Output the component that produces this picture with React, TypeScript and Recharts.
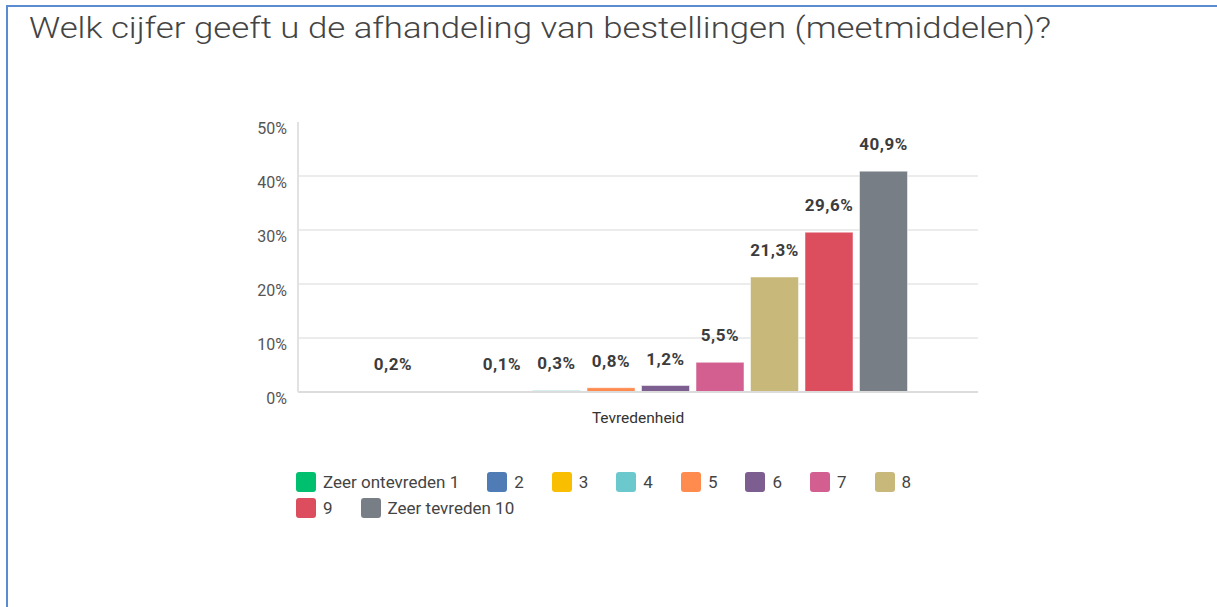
import React from 'react';
import { BarChart, Bar, XAxis, YAxis, CartesianGrid, LabelList } from 'recharts';

const title = 'Welk cijfer geeft u de afhandeling van bestellingen (meetmiddelen)?';
const category = 'Tevredenheid';
const seriesNames = ['Zeer ontevreden 1', '2', '3', '4', '5', '6', '7', '8', '9', 'Zeer tevreden 10'];
const seriesValues = [0.2, 0, 0.1, 0.3, 0.8, 1.2, 5.5, 21.3, 29.6, 40.9];
const seriesColors = ['#00bf6f', '#507cb6', '#f9be00', '#6bc8cd', '#ff8b4f', '#7d5e90', '#d25f90', '#c8b87a', '#dc4e5e', '#777e85'];
const yTicks = [0, 10, 20, 30, 40, 50];
const gridValues = [10, 20, 30, 40];

const FONT = 'Roboto, "Noto Sans", sans-serif';

// one row, one key per answer
const row: Record<string, string | number> = { cat: category };
seriesValues.forEach((v, i) => {
  row[`s${i}`] = v;
});
const data = [row];

const pct = (v: number) => (v === 0 ? '' : `${v.toFixed(1).replace('.', ',')}%`);

const YTick = (p: any) => (
  <text x={p.x} y={p.y + 12} textAnchor="end" fontSize={16} fill="#555" fontFamily={FONT}>
    {`${p.payload.value}%`}
  </text>
);

const XTick = (p: any) => (
  <text x={p.x} y={p.y + 31} textAnchor="middle" fontSize={15.5} fill="#333" fontFamily={FONT}>
    {p.payload.value}
  </text>
);

export default function App() {
  return (
    <div style={{ position: 'absolute', left: 0, top: 0, width: 1217, height: 607, background: '#fff', overflow: 'hidden', fontFamily: FONT }}>
      {/* frame edges */}
      <div style={{ position: 'absolute', left: 6, top: 5, width: 1211, height: 2, background: '#5b8bd0' }} />
      <div style={{ position: 'absolute', left: 6, top: 5, width: 2, height: 602, background: '#5b8bd0' }} />

      <svg width={1217} height={60} style={{ position: 'absolute', left: 0, top: 0 }}>
        <text x={29} y={38} fontSize={30} fill="#444" fontFamily={FONT} fontWeight={300} textLength={1022} lengthAdjust="spacingAndGlyphs">
          {title}
        </text>
      </svg>

      <div style={{ position: 'absolute', left: 0, top: 0 }}>
        <BarChart
          width={1217}
          height={440}
          data={data}
          margin={{ top: 122, right: 239, bottom: 8, left: 238 }}
          barSize={48}
          barGap={6.5}
        >
          <CartesianGrid vertical={false} horizontalValues={gridValues} stroke="#ececec" strokeWidth={2} />
          <XAxis
            dataKey="cat"
            height={40}
            tickSize={0}
            tickMargin={0}
            tick={XTick}
            axisLine={{ stroke: '#dcdcdc', strokeWidth: 2 }}
          />
          <YAxis
            width={60}
            domain={[0, 50]}
            ticks={yTicks}
            interval={0}
            tickSize={0}
            tickMargin={11}
            tick={YTick}
            axisLine={{ stroke: '#e2e2e2', strokeWidth: 2 }}
          />
          {seriesNames.map((name, i) => (
            <Bar
              key={name}
              dataKey={`s${i}`}
              name={name}
              fill={seriesColors[i]}
              stroke="#ffffff"
              strokeOpacity={0.5}
              strokeWidth={1}
              isAnimationActive={false}
            >
              <LabelList
                dataKey={`s${i}`}
                position="top"
                offset={21}
                formatter={(v: any) => pct(Number(v))}
                style={{ fontSize: 17, fontWeight: 700, fill: '#3c3c3c', fontFamily: FONT, letterSpacing: 0.5 }}
              />
            </Bar>
          ))}
        </BarChart>
      </div>

      {/* legend */}
      <div style={{ position: 'absolute', left: 296, top: 472, width: 650, display: 'flex', flexWrap: 'wrap', rowGap: 6 }}>
        {seriesNames.map((name, i) => (
          <div key={name} style={{ display: 'flex', alignItems: 'center', marginRight: 28, height: 20 }}>
            <span style={{ width: 20, height: 20, borderRadius: 3, background: seriesColors[i], display: 'inline-block', marginRight: 7 }} />
            <span style={{ fontSize: 17, color: '#444', lineHeight: '20px' }}>{name}</span>
          </div>
        ))}
      </div>
    </div>
  );
}
